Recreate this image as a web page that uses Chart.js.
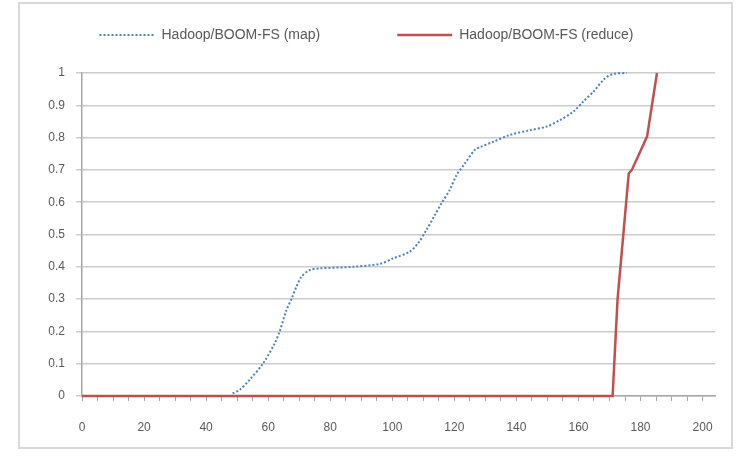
<!DOCTYPE html>
<html>
<head>
<meta charset="utf-8">
<title>Hadoop/BOOM-FS CDF</title>
<script src="https://cdn.jsdelivr.net/npm/chart.js@4.4.1/dist/chart.umd.min.js"></script>
<style>
html, body { margin: 0; padding: 0; background: #fff; }
#chart_box { width: 742px; height: 456px; }
</style>
</head>
<body>
<div id="chart_box"><canvas id="cdf_chart" width="742" height="456"></canvas></div>
<script>
/* series names */
var seriesNames = ['Hadoop/BOOM-FS (map)', 'Hadoop/BOOM-FS (reduce)'];
/* map: x = time, y = fraction done */
var mapX = [0, 48, 48.6, 50.8, 54, 58.3, 62.1, 63.7, 65.9, 67.5, 69.1, 70.7, 73.4, 76.6, 87.4, 96, 100.3, 105.6, 108.3, 111, 113.7, 115.9, 118.5, 120.7, 123.4, 126.6, 128.2, 132.5, 137.9, 144.4, 149.7, 154, 158.3, 161.5, 164.8, 168.5, 171.2, 175.5];
var mapY = [0, 0, 0.008, 0.019, 0.05, 0.10, 0.163, 0.20, 0.266, 0.30, 0.338, 0.369, 0.39, 0.395, 0.40, 0.409, 0.426, 0.447, 0.473, 0.514, 0.56, 0.597, 0.638, 0.684, 0.72, 0.762, 0.77, 0.787, 0.808, 0.823, 0.834, 0.854, 0.88, 0.911, 0.942, 0.983, 0.997, 1.0];
/* reduce */
var reduceX = [0, 171, 172.6, 176.2, 177.2, 182.1, 185.3];
var reduceY = [0, 0, 0.30, 0.689, 0.70, 0.803, 1.0];
/* tick labels */
var xTickLabels = [0, 20, 40, 60, 80, 100, 120, 140, 160, 180, 200];
var yTickLabels = [0, 0.1, 0.2, 0.3, 0.4, 0.5, 0.6, 0.7, 0.8, 0.9, 1];

function toPoints(xs, ys) {
    var pts = [];
    for (var i = 0; i < xs.length; i++) {
        pts.push({x: xs[i], y: ys[i]});
    }
    return pts;
}

var fontFamily = '"Liberation Sans", Arial, sans-serif';
var labelColor = '#595959';
var axisColor = '#a6a6a6';

/* outer frame + white background */
var framePlugin = {
    id: 'frame',
    beforeDraw: function(chart) {
        var ctx = chart.ctx;
        ctx.save();
        ctx.fillStyle = '#fff';
        ctx.fillRect(0, 0, chart.width, chart.height);
        ctx.strokeStyle = '#d9d9d9';
        ctx.lineWidth = 2;
        ctx.strokeRect(19, 3, 713, 445);
        ctx.restore();
    }
};

/* legend box reaches down to the top of the plot (y=73) */
var legendGapPlugin = {
    id: 'legendGap',
    beforeInit: function(chart) {
        var oldFit = chart.legend.fit;
        chart.legend.fit = function() {
            oldFit.call(this);
            this.height = 122;
        };
    }
};

var ctx = document.getElementById('cdf_chart').getContext('2d');
var myChart = new Chart(ctx, {
    type: 'line',
    data: {
        datasets: [{
            label: seriesNames[0],
            data: toPoints(mapX, mapY),
            borderColor: '#4f81bd',
            backgroundColor: '#4f81bd',
            borderWidth: 2,
            borderDash: [2, 2],
            pointRadius: 0,
            tension: 0.3,
            fill: false,
            clip: 4,
            order: 1
        }, {
            label: seriesNames[1],
            data: toPoints(reduceX, reduceY),
            borderColor: '#c0504d',
            backgroundColor: '#c0504d',
            borderWidth: 2.5,
            pointRadius: 0,
            tension: 0,
            fill: false,
            clip: 4,
            order: 0
        }]
    },
    options: {
        responsive: false,
        animation: false,
        devicePixelRatio: 1,
        layout: {
            padding: { left: 18, right: 27, top: -49, bottom: 0 }
        },
        plugins: {
            legend: {
                display: true,
                position: 'top',
                labels: {
                    usePointStyle: true,
                    pointStyle: 'line',
                    pointStyleWidth: 55,
                    padding: 77,
                    color: labelColor,
                    font: { family: fontFamily, size: 14 },
                    sort: function(a, b) { return a.datasetIndex - b.datasetIndex; },
                    /* point style legend drops the dash, put it back */
                    generateLabels: function(chart) {
                        var items = Chart.defaults.plugins.legend.labels.generateLabels(chart);
                        items.forEach(function(it) {
                            var ds = chart.data.datasets[it.datasetIndex];
                            it.lineDash = ds.borderDash || [];
                            it.lineWidth = ds.borderWidth;
                            it.strokeStyle = ds.borderColor;
                        });
                        return items;
                    }
                }
            },
            tooltip: { enabled: false }
        },
        scales: {
            x: {
                type: 'linear',
                min: 0,
                max: 204,
                afterFit: function(scale) { scale.height = 60; },
                afterBuildTicks: function(scale) {
                    var t = [];
                    for (var v = 0; v <= 200; v += 5) t.push({value: v});
                    scale.ticks = t;
                },
                grid: {
                    drawOnChartArea: false,
                    drawTicks: true,
                    tickLength: 5,
                    color: axisColor
                },
                border: { color: axisColor, width: 1.5 },
                ticks: {
                    autoSkip: false,
                    maxRotation: 0,
                    padding: 19,
                    color: labelColor,
                    font: { family: fontFamily, size: 12 },
                    callback: function(value) {
                        return xTickLabels.indexOf(value) >= 0 ? String(value) : '';
                    }
                }
            },
            y: {
                type: 'linear',
                min: 0,
                max: 1,
                afterFit: function(scale) { scale.width = 64; },
                afterBuildTicks: function(scale) {
                    scale.ticks = yTickLabels.map(function(v) { return {value: v}; });
                },
                grid: {
                    color: '#cccccc',
                    lineWidth: 1.5,
                    tickLength: 6
                },
                border: { color: axisColor, width: 1.5 },
                ticks: {
                    padding: 11,
                    color: labelColor,
                    font: { family: fontFamily, size: 12 },
                    callback: function(value) { return String(+value.toFixed(1)); }
                }
            }
        }
    },
    plugins: [framePlugin, legendGapPlugin]
});
</script>
</body>
</html>
